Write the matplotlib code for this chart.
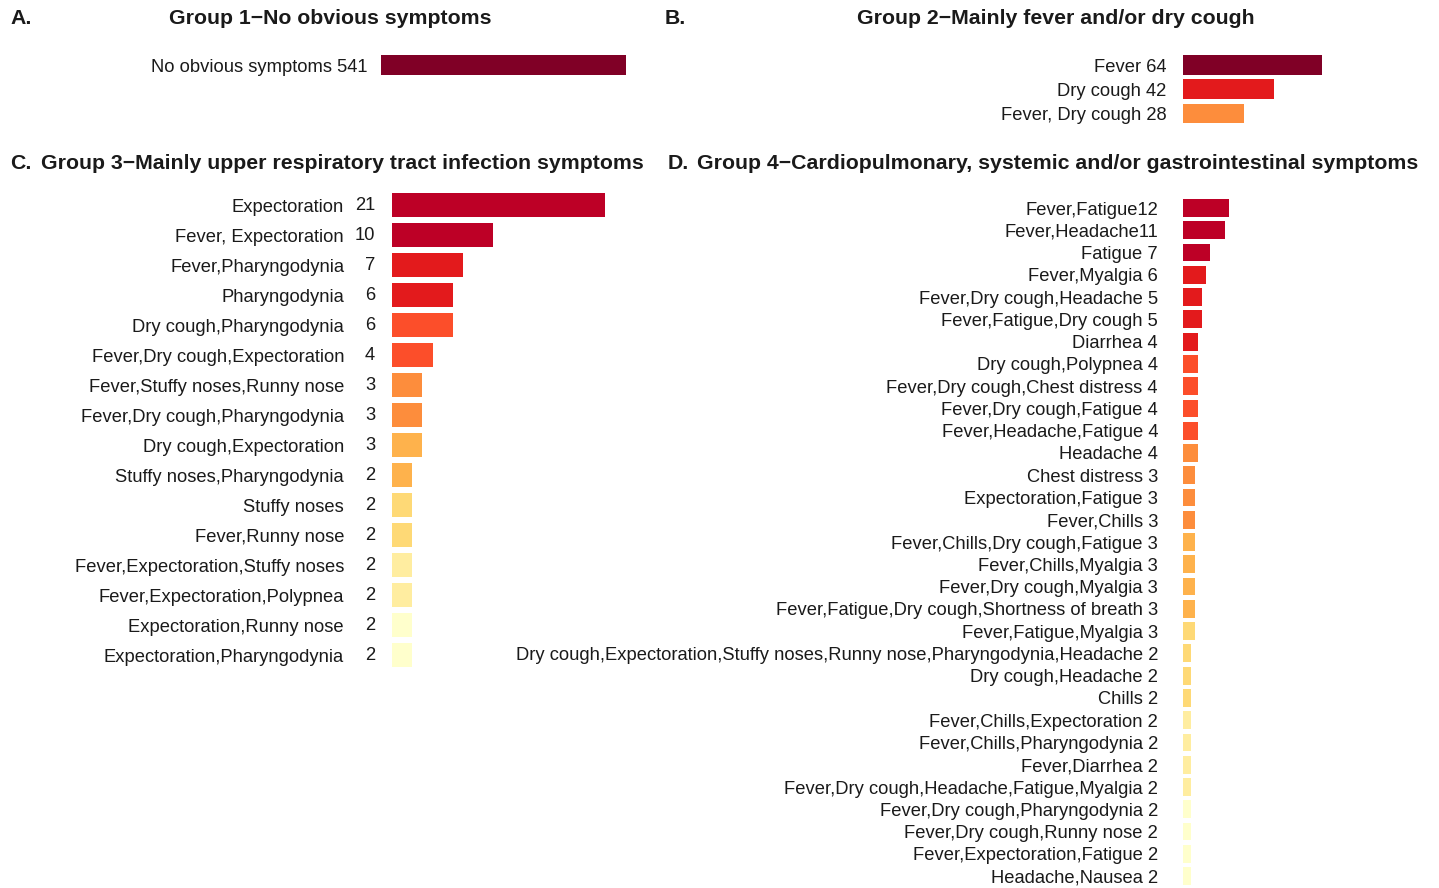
import numpy as np
import matplotlib
matplotlib.use('Agg')
import matplotlib.pyplot as plt

plt.rcParams['font.family'] = ['Liberation Sans', 'DejaVu Sans']

# ---- data ----
g1_names = ['No obvious symptoms']
g1_counts = [541]

g2_names = ['Fever', 'Dry cough', 'Fever, Dry cough']
g2_counts = [64, 42, 28]

g3_names = ['Expectoration', 'Fever, Expectoration', 'Fever,Pharyngodynia', 'Pharyngodynia',
            'Dry cough,Pharyngodynia', 'Fever,Dry cough,Expectoration',
            'Fever,Stuffy noses,Runny nose', 'Fever,Dry cough,Pharyngodynia',
            'Dry cough,Expectoration', 'Stuffy noses,Pharyngodynia', 'Stuffy noses',
            'Fever,Runny nose', 'Fever,Expectoration,Stuffy noses', 'Fever,Expectoration,Polypnea',
            'Expectoration,Runny nose', 'Expectoration,Pharyngodynia']
g3_counts = [21, 10, 7, 6, 6, 4, 3, 3, 3, 2, 2, 2, 2, 2, 2, 2]

g4_names = ['Fever,Fatigue', 'Fever,Headache', 'Fatigue', 'Fever,Myalgia',
            'Fever,Dry cough,Headache', 'Fever,Fatigue,Dry cough', 'Diarrhea',
            'Dry cough,Polypnea', 'Fever,Dry cough,Chest distress', 'Fever,Dry cough,Fatigue',
            'Fever,Headache,Fatigue', 'Headache', 'Chest distress', 'Expectoration,Fatigue',
            'Fever,Chills', 'Fever,Chills,Dry cough,Fatigue', 'Fever,Chills,Myalgia',
            'Fever,Dry cough,Myalgia', 'Fever,Fatigue,Dry cough,Shortness of breath',
            'Fever,Fatigue,Myalgia',
            'Dry cough,Expectoration,Stuffy noses,Runny nose,Pharyngodynia,Headache',
            'Dry cough,Headache', 'Chills', 'Fever,Chills,Expectoration',
            'Fever,Chills,Pharyngodynia', 'Fever,Diarrhea',
            'Fever,Dry cough,Headache,Fatigue,Myalgia', 'Fever,Dry cough,Pharyngodynia',
            'Fever,Dry cough,Runny nose', 'Fever,Expectoration,Fatigue', 'Headache,Nausea']
g4_counts = [12, 11, 7, 6, 5, 5, 4, 4, 4, 4, 4, 4, 3, 3, 3, 3, 3, 3, 3, 3,
             2, 2, 2, 2, 2, 2, 2, 2, 2, 2, 2]

# ---- styles ----
pal = ['#bd0026', '#e31a1c', '#fc4e2a', '#fd8d3c', '#feb24c', '#fed976', '#ffeda0', '#ffffcc']
g2_colors = ['#800026', '#e31a1c', '#fd8d3c']
g3_colors = np.repeat(pal, 2).tolist()
g4_colors = np.repeat(pal, [3, 4, 4, 4, 4, 4, 4, 4]).tolist()

W, H = 1439, 888
fig = plt.figure(figsize=(W / 100, H / 100), dpi=100)
txt = '#1a1a1a'
fs = 13.2


def px_axes(left, top, width, height):
    return fig.add_axes([left / W, 1 - (top + height) / H, width / W, height / H])


def clean(ax):
    for s in ax.spines.values():
        s.set_visible(False)
    ax.set_xticks([])
    ax.tick_params(axis='y', length=0, labelsize=fs, labelcolor=txt)


def panel(left, first_y, pitch, ppu, xmax, n, pad):
    top = first_y - 0.6 * pitch
    ax = px_axes(left, top, xmax * ppu, (n + 0.2) * pitch)
    ax.set_xlim(0, xmax)
    ax.set_ylim(n - 0.4, -0.6)
    clean(ax)
    ax.tick_params(axis='y', pad=pad)
    return ax


# A
axA = panel(381, 65, 24.25, 0.4529, 541 * 1.05, 1, 9.4)
axA.barh(range(len(g1_counts)), g1_counts, height=0.82, color='#800026')
axA.set_yticks(range(len(g1_counts)))
axA.set_yticklabels([f'{a} {b}' for a, b in zip(g1_names, g1_counts)])

# B
axB = panel(1183, 65, 24.25, 2.17, 64 * 1.05, 3, 12)
axB.barh(range(len(g2_counts)), g2_counts, height=0.82, color=g2_colors)
axB.set_yticks(range(len(g2_counts)))
axB.set_yticklabels([f'{a} {b}' for a, b in zip(g2_names, g2_counts)])

# C
axC = panel(392, 205, 30, 10.14, 21 * 1.05, 16, 34.5)
axC.barh(range(len(g3_counts)), g3_counts, height=0.8, color=g3_colors)
axC.set_yticks(range(len(g3_counts)))
axC.set_yticklabels(g3_names)
for i, v in enumerate(g3_counts):
    axC.annotate(str(v), xy=(0, i), xycoords=('axes fraction', 'data'),
                 xytext=(-12.2, 0), textcoords='offset points',
                 ha='right', va='center', fontsize=fs, color=txt)

# D
axD = panel(1183, 208, 22.27, 3.84, 12 * 1.05, 31, 18)
axD.barh(range(len(g4_counts)), g4_counts, height=0.8, color=g4_colors)
axD.set_yticks(range(len(g4_counts)))
axD.set_yticklabels([f'{a}{b:2d}' for a, b in zip(g4_names, g4_counts)])

# titles
tfs = 15.3
def ftext(x, y, s, **kw):
    fig.text(x / W, 1 - y / H, s, fontsize=tfs, fontweight='bold', color=txt,
             va='center', **kw)

ftext(10, 19, 'A.')
ftext(330, 19, 'Group 1\u2212No obvious symptoms', ha='center')
ftext(665, 19, 'B.')
ftext(1056, 19, 'Group 2\u2212Mainly fever and/or dry cough', ha='center')
ftext(10, 163, 'C.')
ftext(41, 163, 'Group 3\u2212Mainly upper respiratory tract infection symptoms')
ftext(668, 163, 'D.')
ftext(697, 163, 'Group 4\u2212Cardiopulmonary, systemic and/or gastrointestinal symptoms')

fig.savefig('out.png', dpi=100)
